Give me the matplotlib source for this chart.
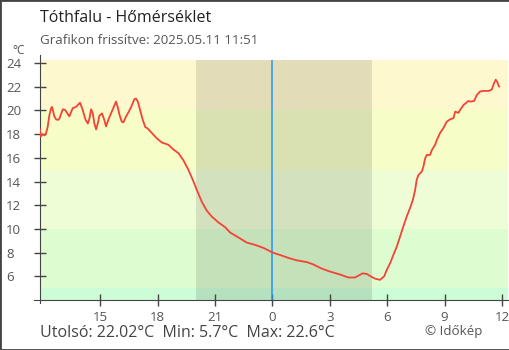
import matplotlib
matplotlib.use('Agg')
import matplotlib.pyplot as plt
import matplotlib.patches as patches

plt.rcParams['font.family'] = ['Open Sans', 'DejaVu Sans']

# ora (elozo nap ejfeletol szamolva) es homerseklet
ora = [11.86, 11.90, 12.00, 12.10, 12.17, 12.26, 12.35, 12.44, 12.49, 12.61,
       12.70, 12.80, 12.87, 13.05, 13.17, 13.31, 13.39, 13.57, 13.74, 13.89,
       13.95, 14.09, 14.23, 14.36, 14.44, 14.53, 14.62, 14.70, 14.79, 14.88,
       14.96, 15.10, 15.22, 15.31, 15.45, 15.57, 15.69, 15.83, 15.92, 16.01,
       16.13, 16.22, 16.36, 16.50, 16.62, 16.79, 16.88, 16.97, 17.09, 17.23,
       17.36, 17.47, 17.70, 17.96, 18.22, 18.57, 18.83, 19.09, 19.35, 19.61,
       19.84, 20.05, 20.31, 20.57, 20.83, 21.18, 21.53, 21.79, 22.31, 22.66,
       23.10, 23.53, 24.02, 24.40, 24.84, 25.27, 25.80, 26.14, 26.58, 27.01,
       27.54, 27.97, 28.32, 28.49, 28.72, 28.93, 29.19, 29.37, 29.63, 29.84,
       29.98, 30.15, 30.32, 30.50, 30.67, 30.84, 31.02, 31.19, 31.34, 31.46,
       31.54, 31.63, 31.81, 31.89, 31.98, 32.07, 32.24, 32.33, 32.50, 32.59,
       32.76, 32.93, 33.11, 33.28, 33.46, 33.55, 33.72, 33.81, 33.98, 34.24,
       34.33, 34.54, 34.68, 34.85, 35.02, 35.29, 35.46, 35.58, 35.67, 35.75,
       35.80, 35.85]
homerseklet = [18.4, 17.8, 18.0, 17.9, 18.05, 18.6, 19.6, 20.2, 20.3, 19.5,
               19.25, 19.2, 19.3, 20.1, 20.05, 19.7, 19.5, 20.2, 20.3, 20.55,
               20.65, 20.05, 19.25, 18.9, 19.3, 20.1, 19.75, 18.9, 18.4, 18.9,
               19.55, 19.75, 19.2, 18.65, 19.3, 19.75, 20.2, 20.75, 20.3, 19.65,
               19.05, 19.0, 19.5, 19.9, 20.3, 20.95, 21.0, 20.75, 20.05, 19.2,
               18.6, 18.5, 18.1, 17.65, 17.3, 17.1, 16.7, 16.4, 15.8, 15.0,
               14.15, 13.3, 12.3, 11.55, 11.05, 10.55, 10.15, 9.7, 9.2, 8.85,
               8.65, 8.4, 8.0, 7.8, 7.55, 7.35, 7.2, 7.0, 6.65, 6.4,
               6.15, 5.9, 5.9, 6.05, 6.25, 6.2, 5.95, 5.8, 5.7, 6.0,
               6.55, 7.1, 7.8, 8.5, 9.35, 10.2, 11.05, 11.75, 12.45, 13.3,
               14.15, 14.55, 14.85, 15.25, 15.95, 16.25, 16.25, 16.65, 17.1, 17.5,
               18.1, 18.5, 19.05, 19.25, 19.35, 19.9, 19.8, 20.05, 20.45, 20.8,
               20.75, 20.8, 21.3, 21.6, 21.65, 21.65, 21.75, 22.3, 22.6, 22.4,
               22.15, 22.02]

sav_hatar = [4, 5, 10, 15, 20, 24.3]
sav_szin = ['#ccfdd6', '#ddfdd0', '#eefdd6', '#f6fdc6', '#fef8cf']
ejszaka = [20.0, 29.2]
ejfel = 24
xtick_ora = [15, 18, 21, 24, 27, 30, 33, 36]
xtick_cimke = ['15', '18', '21', '0', '3', '6', '9', '12']
ytick_ertek = [6, 8, 10, 12, 14, 16, 18, 20, 22, 24]

fig = plt.figure(figsize=(5.1, 3.5), dpi=100)
ax = fig.add_axes([40/510, 50/350, 468/510, 240/350])
ax.set_xlim(11.86, 36.31)
ax.set_ylim(4.0, 24.26)

for i in range(len(sav_szin)):
    ax.axhspan(sav_hatar[i], sav_hatar[i+1], color=sav_szin[i], lw=0, zorder=0)
ax.axvspan(ejszaka[0], ejszaka[1], color='black', alpha=0.11, lw=0, zorder=1)
ax.axvline(ejfel, color='#2196f3', lw=1.1, zorder=2)

ax.plot(ora, homerseklet, color='#f44336', lw=1.3, zorder=3)

for s in ['top', 'right']:
    ax.spines[s].set_visible(False)
ax.spines['left'].set_color('#444444')
ax.spines['bottom'].set_color('#444444')
ax.spines['left'].set_bounds(3.75, 24.68)
ax.spines['bottom'].set_bounds(11.55, 36.31)

ax.set_xticks(xtick_ora)
ax.set_xticklabels(xtick_cimke)
ax.set_yticks(ytick_ertek)
ax.tick_params(direction='inout', length=9, width=1, color='#444444',
               labelcolor='#555555', labelsize=9.5)
ax.tick_params(axis='x', pad=3.5)
ax.tick_params(axis='y', pad=20)
for lbl in ax.get_yticklabels():
    lbl.set_ha('left')

fig.text(12/510, 1 - 50/350, '°C', fontsize=8.5, color='#555555', va='center')
fig.text(40/510, 1 - 18/350, 'Tóthfalu - Hőmérséklet', fontsize=11.5,
         color='#222222', va='center')
fig.text(40/510, 1 - 41/350, 'Grafikon frissítve: 2025.05.11 11:51', fontsize=9.6,
         color='#555555', va='center')
fig.text(40/510, 1 - 333/350, 'Utolsó: 22.02°C  Min: 5.7°C  Max: 22.6°C',
         fontsize=11.5, color='#444444', va='center')
fig.text(425/510, 1 - 332/350, '© Időkép', fontsize=9.6, color='#555555',
         va='center')

fig.patches.append(patches.Rectangle((0, 0), 1, 1, transform=fig.transFigure,
                                     fill=False, edgecolor='#444444', lw=2))

fig.savefig('out.png', dpi=100)
